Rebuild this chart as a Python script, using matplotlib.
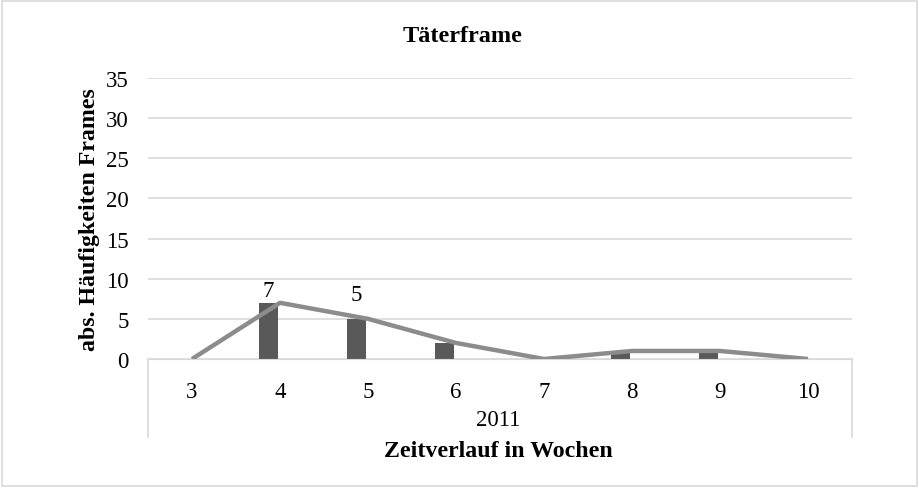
import matplotlib
matplotlib.use('Agg')
import matplotlib.pyplot as plt
from matplotlib.patches import Rectangle

plt.rcParams['font.family'] = ['Liberation Serif', 'DejaVu Serif']

weeks = ['3', '4', '5', '6', '7', '8', '9', '10']
bar_values = [0, 7, 5, 2, 0, 1, 1, 0]
line_values = [0, 7, 5, 2, 0, 1, 1, 0]
labelled = {1: '7', 2: '5'}
year = '2011'

W, H = 919, 489
fig = plt.figure(figsize=(W / 100, H / 100), dpi=100)
ax = fig.add_axes([148 / W, 1 - 360 / H, (852 - 148) / W, (360 - 79) / H])

x = list(range(len(weeks)))
bx = [i - 0.13 for i in x]
ax.bar(bx, bar_values, width=0.22, color='#595959', zorder=2)
ax.plot(x, line_values, color='#8c8c8c', lw=3.2, zorder=3, solid_capstyle='butt')
# label offsets as Excel placed them (avoiding the line)
lift = {1: 0.2, 2: 1.7}
for i, t in labelled.items():
    ax.text(bx[i], bar_values[i] + lift[i], t, ha='center', va='bottom', fontsize=16.5)

ax.set_xlim(-0.5, len(weeks) - 0.5)
ax.set_ylim(0, 35)
ax.set_yticks(range(0, 36, 5))
ax.grid(axis='y', color='#d9d9d9', lw=1.2)
ax.set_axisbelow(True)
for s in ['top', 'right', 'left']:
    ax.spines[s].set_visible(False)
ax.spines['bottom'].set_color('#d9d9d9')
ax.tick_params(axis='y', length=0, pad=14, labelsize=16.5)
ax.tick_params(axis='x', length=0, pad=16, labelsize=16.5)
ax.set_xticks(x)
ax.set_xticklabels(weeks)

# table-like category axis lines
for px in (148, 852):
    fig.add_artist(plt.Line2D([px / W, px / W], [1 - 360 / H, 1 - 438 / H],
                              color='#d9d9d9', lw=1.2))

fig.text(498 / W, 1 - 420 / H, year, ha='center', va='center', fontsize=16.5)
fig.text(498 / W, 1 - 452 / H, 'Zeitverlauf in Wochen', ha='center', va='center',
         fontsize=17.2, fontweight='bold')
fig.text(462 / W, 1 - 37 / H, 'Täterframe', ha='center', va='center',
         fontsize=17.5, fontweight='bold')
fig.text(90 / W, 1 - 220 / H, 'abs. Häufigkeiten Frames', ha='center', va='center',
         rotation=90, fontsize=17.2, fontweight='bold')

fig.add_artist(Rectangle((2 / W, 2 / H), 1 - 4 / W, 1 - 4 / H, transform=fig.transFigure,
                         fill=False, edgecolor='#d9d9d9', lw=1.2))

fig.savefig('out.png', dpi=100, facecolor='white')
